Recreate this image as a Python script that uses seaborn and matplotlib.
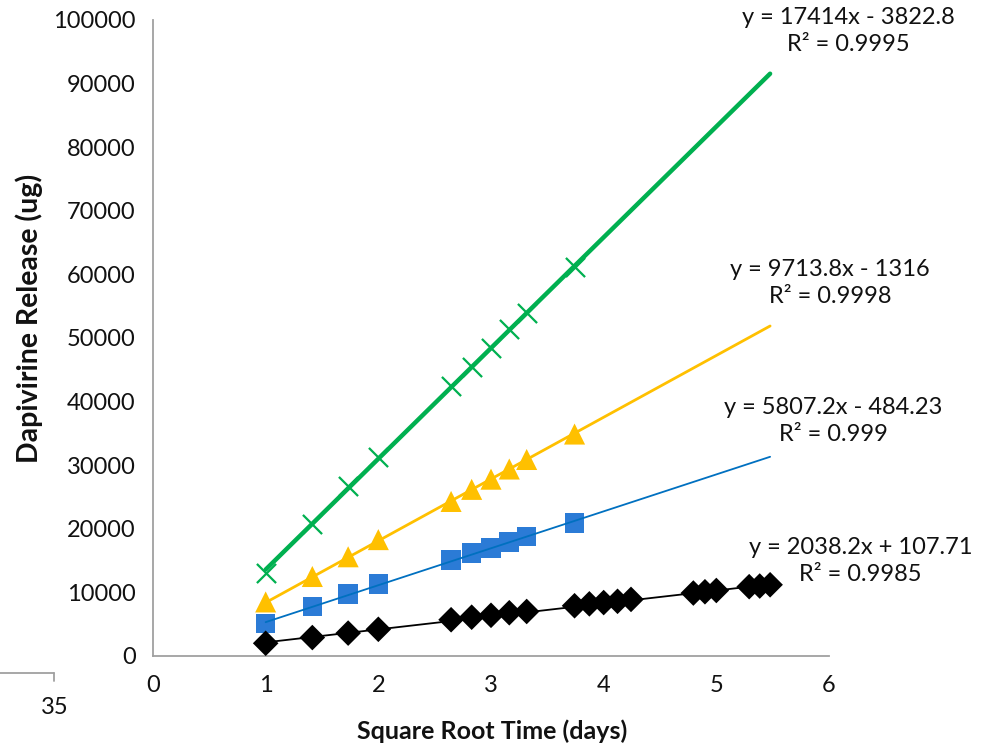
import numpy as np
import pandas as pd
import matplotlib
matplotlib.use("Agg")
import matplotlib.pyplot as plt
import seaborn as sns
from matplotlib.lines import Line2D

# ---- data ----
days_short = [1, 2, 3, 4, 7, 8, 9, 10, 11, 14]
days_long = [1, 2, 3, 4, 7, 8, 9, 10, 11, 14, 15, 16, 17, 18, 23, 24, 25, 28, 29, 30]

green_y = [13000, 20800, 26700, 31300, 42400, 45500, 48400, 51400, 54000, 61100]
yellow_y = [8500, 12500, 15600, 18300, 24300, 26200, 27800, 29400, 30900, 34900]
blue_y = [5100, 7800, 9700, 11300, 15100, 16200, 17000, 17900, 18800, 20900]
black_y = [2000, 2900, 3600, 4200, 5700, 6100, 6400, 6800, 7000, 7900,
           8200, 8400, 8600, 8900, 9900, 10100, 10300, 10900, 11000, 11200]

series_names = ["green", "yellow", "blue", "black"]
slopes = [17414, 9713.8, 5807.2, 2038.2]
intercepts = [-3822.8, -1316, -484.23, 107.71]
eq_labels = ["y = 17414x - 3822.8\nR² = 0.9995",
             "y = 9713.8x - 1316\nR² = 0.9998",
             "y = 5807.2x - 484.23\nR² = 0.999",
             "y = 2038.2x + 107.71\nR² = 0.9985"]

x_ticks = [0, 1, 2, 3, 4, 5, 6]
y_ticks = list(range(0, 100001, 10000))

# ---- styles ----
marker_color = {"green": "#00b050", "yellow": "#ffc000", "blue": "#2b7bd6", "black": "#000000"}
line_color = {"green": "#00b050", "yellow": "#ffc000", "blue": "#0070c0", "black": "#000000"}
line_width = {"green": 3.2, "yellow": 2.0, "blue": 1.3, "black": 1.3}
markers = {"green": "x", "yellow": "^", "blue": "s", "black": "D"}
msize = {"green": 190, "yellow": 230, "blue": 200, "black": 170}
eq_pos = {"green": (6.17, 98270), "yellow": (6.01, 58650),
          "blue": (6.035, 36950), "black": (6.28, 14940)}

sns.set_theme(style="white")
plt.rcParams["font.family"] = ["Lato", "DejaVu Sans"]

fig = plt.figure(figsize=(9.9, 7.45), dpi=100)
ax = fig.add_axes([153 / 990, 1 - 656 / 745, 676 / 990, 636 / 745])

xs_short = np.sqrt(days_short)
xs_long = np.sqrt(days_long)
data_map = {"green": green_y, "yellow": yellow_y, "blue": blue_y, "black": black_y}

x_end = xs_long.max()
for name, m, b in zip(series_names, slopes, intercepts):
    xs = xs_long if name == "black" else xs_short
    df = pd.DataFrame({"x": xs, "y": data_map[name]})
    mk = markers[name]
    if mk == "x":
        sns.scatterplot(data=df, x="x", y="y", ax=ax, marker="x", s=msize[name],
                        color=marker_color[name], linewidth=1.6, zorder=3)
    else:
        sns.scatterplot(data=df, x="x", y="y", ax=ax, marker=mk, s=msize[name],
                        color=marker_color[name], edgecolor="none", linewidth=0, zorder=3)
    tx = np.array([1.0, x_end])
    tdf = pd.DataFrame({"x": tx, "y": m * tx + b})
    sns.lineplot(data=tdf, x="x", y="y", ax=ax, color=line_color[name],
                 linewidth=line_width[name], zorder=4)

for name, lab in zip(series_names, eq_labels):
    px, py = eq_pos[name]
    ax.text(px, py, lab, ha="center", va="center", fontsize=17, color="#111111",
            multialignment="center", linespacing=1.38, clip_on=False)

ax.set_xlim(0, 6)
ax.set_ylim(0, 100000)
ax.set_xticks(x_ticks)
ax.set_yticks(y_ticks)
ax.set_xticklabels([str(v) for v in x_ticks])
ax.set_yticklabels([str(v) for v in y_ticks])
ax.set_xlabel("")
ax.set_ylabel("")

axis_gray = "#a0a0a0"
for s in ["top", "right"]:
    ax.spines[s].set_visible(False)
for s in ["left", "bottom"]:
    ax.spines[s].set_color(axis_gray)
    ax.spines[s].set_linewidth(1.3)
ax.tick_params(axis="both", direction="out", length=5.5, width=1.3, color=axis_gray,
               labelsize=17, labelcolor="#111111", pad=7)
ax.tick_params(axis="x", pad=8)
ax.grid(False)

fig.text(492 / 990, 1 - 731 / 745, "Square Root Time (days)", ha="center", va="center",
         fontsize=18, fontweight="bold", color="#111111")
fig.text(29 / 990, 1 - 318 / 745, "Dapivirine Release (ug)", ha="center", va="center",
         rotation=90, fontsize=20.5, fontweight="bold", color="#111111")

# stray fragment of a second axis at the bottom-left edge
fig.add_artist(Line2D([0, 54 / 990], [1 - 673 / 745, 1 - 673 / 745],
                      transform=fig.transFigure, color=axis_gray, linewidth=1.3))
fig.add_artist(Line2D([54 / 990, 54 / 990], [1 - 673 / 745, 1 - 681 / 745],
                      transform=fig.transFigure, color=axis_gray, linewidth=1.3))
fig.text(55 / 990, 1 - 707 / 745, "35", ha="center", va="center",
         fontsize=17, color="#111111")

fig.savefig("out.png", dpi=100)
